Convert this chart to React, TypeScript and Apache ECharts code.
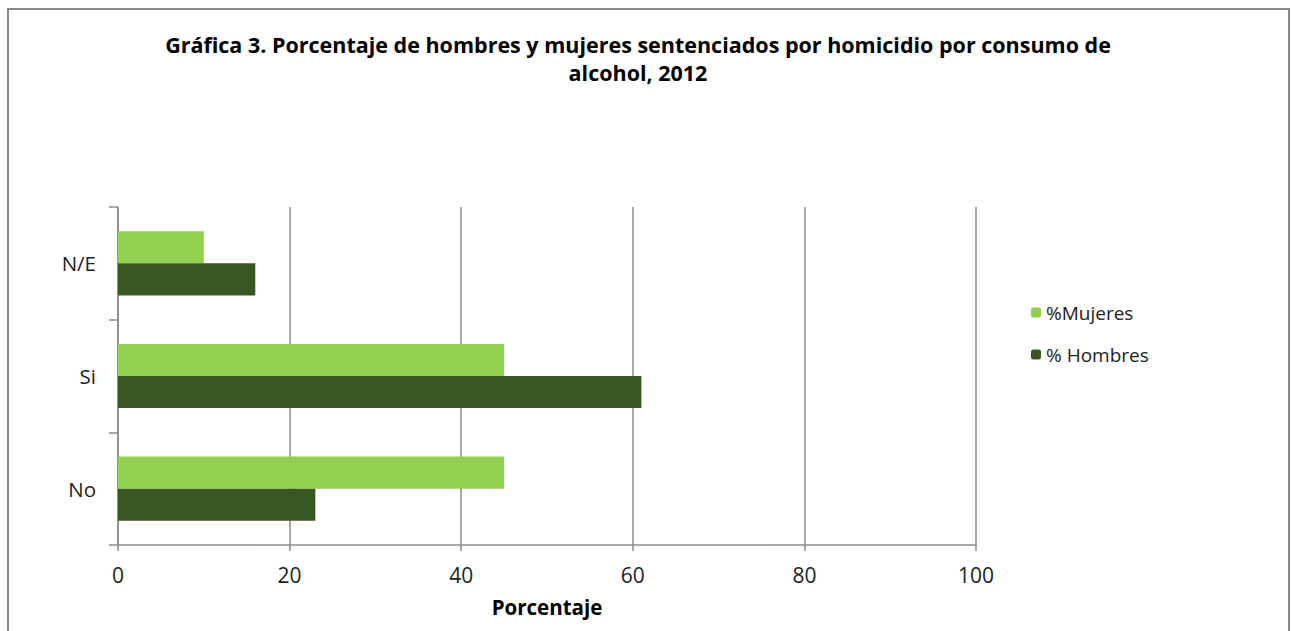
import React, { useEffect, useRef } from "react";
import * as echarts from "echarts";

// Categories listed bottom-to-top along the vertical axis
const categories = ["No", "Si", "N/E"];
const hombres = [23, 61, 16];
const mujeres = [45, 45, 10];
const xTicks = [0, 20, 40, 60, 80, 100];

const titleText =
  "Gráfica 3. Porcentaje de hombres y mujeres sentenciados por homicidio por consumo de\nalcohol, 2012";

const LIGHT = "#92D050";
const DARK = "#385723";
const AXIS = "#8c8c8c";
const FONT = "Open Sans, sans-serif";

export default function App() {
  const ref = useRef<HTMLDivElement>(null);

  useEffect(() => {
    if (!ref.current) return;
    const chart = echarts.init(ref.current, undefined, { renderer: "svg" });
    chart.setOption({
      animation: false,
      backgroundColor: "#ffffff",
      title: {
        text: titleText,
        left: 633,
        textAlign: "center",
        top: 25,
        textStyle: {
          fontFamily: FONT,
          fontWeight: "bold",
          fontSize: 21.5,
          lineHeight: 28,
          color: "#000",
        },
      },
      graphic: [
        {
          type: "polyline",
          shape: {
            points: [
              [8, 640],
              [8, 9],
              [1289, 9],
              [1289, 640],
            ],
          },
          style: { stroke: "#8a8a8a", lineWidth: 2, fill: null },
          silent: true,
        },
      ],
      legend: {
        orient: "vertical",
        left: 1026,
        top: 298,
        itemWidth: 10,
        itemHeight: 10,
        itemGap: 23,
        data: ["%Mujeres", "% Hombres"],
        textStyle: {
          fontFamily: FONT,
          fontSize: 19,
          color: "#222",
        },
      },
      grid: { left: 118, right: 315, top: 207, bottom: 86, containLabel: false },
      xAxis: {
        type: "value",
        min: xTicks[0],
        max: xTicks[xTicks.length - 1],
        interval: 20,
        name: "Porcentaje",
        nameLocation: "middle",
        nameGap: 51,
        nameTextStyle: {
          fontFamily: FONT,
          fontWeight: "bold",
          fontSize: 20.5,
          color: "#000",
        },
        axisLine: { show: true, lineStyle: { color: AXIS, width: 1.5 } },
        axisTick: { show: true, length: 6, lineStyle: { color: AXIS, width: 1.5 } },
        axisLabel: {
          margin: 19,
          fontFamily: FONT,
          fontSize: 21,
          color: "#222",
        },
        splitLine: { show: true, lineStyle: { color: AXIS, width: 1.5 } },
      },
      yAxis: {
        type: "category",
        data: categories,
        axisLine: { show: true, lineStyle: { color: AXIS, width: 1.5 } },
        axisTick: { show: true, length: 9, lineStyle: { color: AXIS, width: 1.5 } },
        axisLabel: {
          margin: 22,
          fontFamily: FONT,
          fontSize: 20.5,
          color: "#222",
        },
      },
      series: [
        {
          name: "%Mujeres",
          type: "bar",
          data: mujeres,
          itemStyle: { color: LIGHT },
          barGap: "0%",
          barCategoryGap: "43%",
        },
        {
          name: "% Hombres",
          type: "bar",
          data: hombres,
          itemStyle: { color: DARK },
          barGap: "0%",
          barCategoryGap: "43%",
        },
      ],
    });
    return () => chart.dispose();
  }, []);

  return (
    <div
      ref={ref}
      style={{ position: "fixed", left: 0, top: 0, width: 1291, height: 631 }}
    />
  );
}
